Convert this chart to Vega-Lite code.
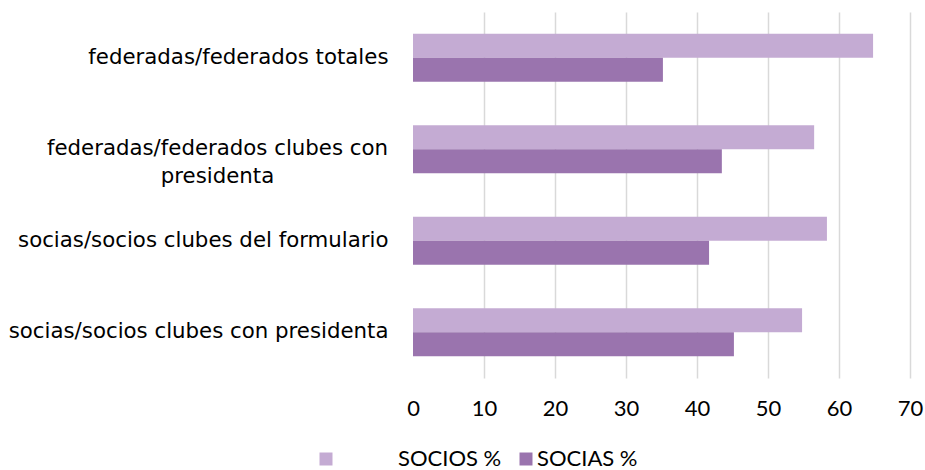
{
  "$schema": "https://vega.github.io/schema/vega-lite/v6.json",
  "width": 497,
  "height": 366,
  "autosize": {"type": "none"},
  "padding": {"left": 413, "top": 12, "right": 15, "bottom": 92},
  "background": "white",
  "data": {
    "values": [
      {"cat": "federadas/federados totales", "serie": "SOCIOS %", "v": 64.8},
      {"cat": "federadas/federados totales", "serie": "SOCIAS %", "v": 35.2},
      {"cat": "federadas/federados clubes con presidenta", "serie": "SOCIOS %", "v": 56.5},
      {"cat": "federadas/federados clubes con presidenta", "serie": "SOCIAS %", "v": 43.5},
      {"cat": "socias/socios clubes del formulario", "serie": "SOCIOS %", "v": 58.3},
      {"cat": "socias/socios clubes del formulario", "serie": "SOCIAS %", "v": 41.7},
      {"cat": "socias/socios clubes con presidenta", "serie": "SOCIOS %", "v": 54.8},
      {"cat": "socias/socios clubes con presidenta", "serie": "SOCIAS %", "v": 45.2}
    ]
  },
  "config": {"view": {"stroke": null}},
  "mark": {"type": "bar"},
  "encoding": {
    "y": {
      "field": "cat",
      "type": "nominal",
      "sort": ["federadas/federados totales", "federadas/federados clubes con presidenta", "socias/socios clubes del formulario", "socias/socios clubes con presidenta"],
      "scale": {"paddingInner": 0.475, "paddingOuter": 0.2375},
      "axis": {
        "title": null,
        "domain": false,
        "ticks": false,
        "tickSize": 0,
        "labelFont": "DejaVu Sans",
        "labelFontSize": 21.3,
        "labelColor": "#000000",
        "labelLimit": 420,
        "labelLineHeight": 28,
        "labelExpr": "datum.value == 'federadas/federados clubes con presidenta' ? ['federadas/federados clubes con', 'presidenta'] : datum.label",
        "labelAlign": {"condition": {"test": "datum.value == 'federadas/federados clubes con presidenta'", "value": "center"}, "value": "right"},
        "labelPadding": {"condition": {"test": "datum.value == 'federadas/federados clubes con presidenta'", "value": 196}, "value": 25}
      }
    },
    "yOffset": {"field": "serie", "type": "nominal", "sort": ["SOCIOS %", "SOCIAS %"], "scale": {"paddingInner": 0, "paddingOuter": 0}},
    "x": {
      "field": "v",
      "type": "quantitative",
      "scale": {"domain": [0, 70], "nice": false},
      "axis": {
        "title": null,
        "values": [0, 10, 20, 30, 40, 50, 60, 70],
        "domain": false,
        "ticks": false,
        "tickSize": 0,
        "labelFont": "Lato",
        "labelFontSize": 22,
        "labelColor": "#000000",
        "labelPadding": 20,
        "labelFlush": false,
        "grid": true,
        "gridColor": "#D9D9D9",
        "gridWidth": 1.5,
        "gridOpacity": {"condition": {"test": "datum.value == 0", "value": 0}, "value": 1}
      }
    },
    "color": {
      "field": "serie",
      "type": "nominal",
      "sort": ["SOCIOS %", "SOCIAS %"],
      "scale": {"domain": ["SOCIOS %", "SOCIAS %"], "range": ["#C4ABD3", "#9A74AE"]},
      "legend": {
        "title": null,
        "orient": "none",
        "direction": "horizontal",
        "legendX": -98,
        "legendY": 436,
        "padding": 0,
        "symbolType": "square",
        "symbolSize": 169,
        "symbolStrokeWidth": 0,
        "labelFont": "Lato",
        "labelFontSize": 22,
        "labelColor": "#000000",
        "labelOffset": 0,
        "columnPadding": 13,
        "encode": {
          "labels": {
            "update": {
              "dx": {"signal": "datum.label == 'SOCIOS %' ? 61 : 0"}
            }
          }
        }
      }
    }
  }
}
